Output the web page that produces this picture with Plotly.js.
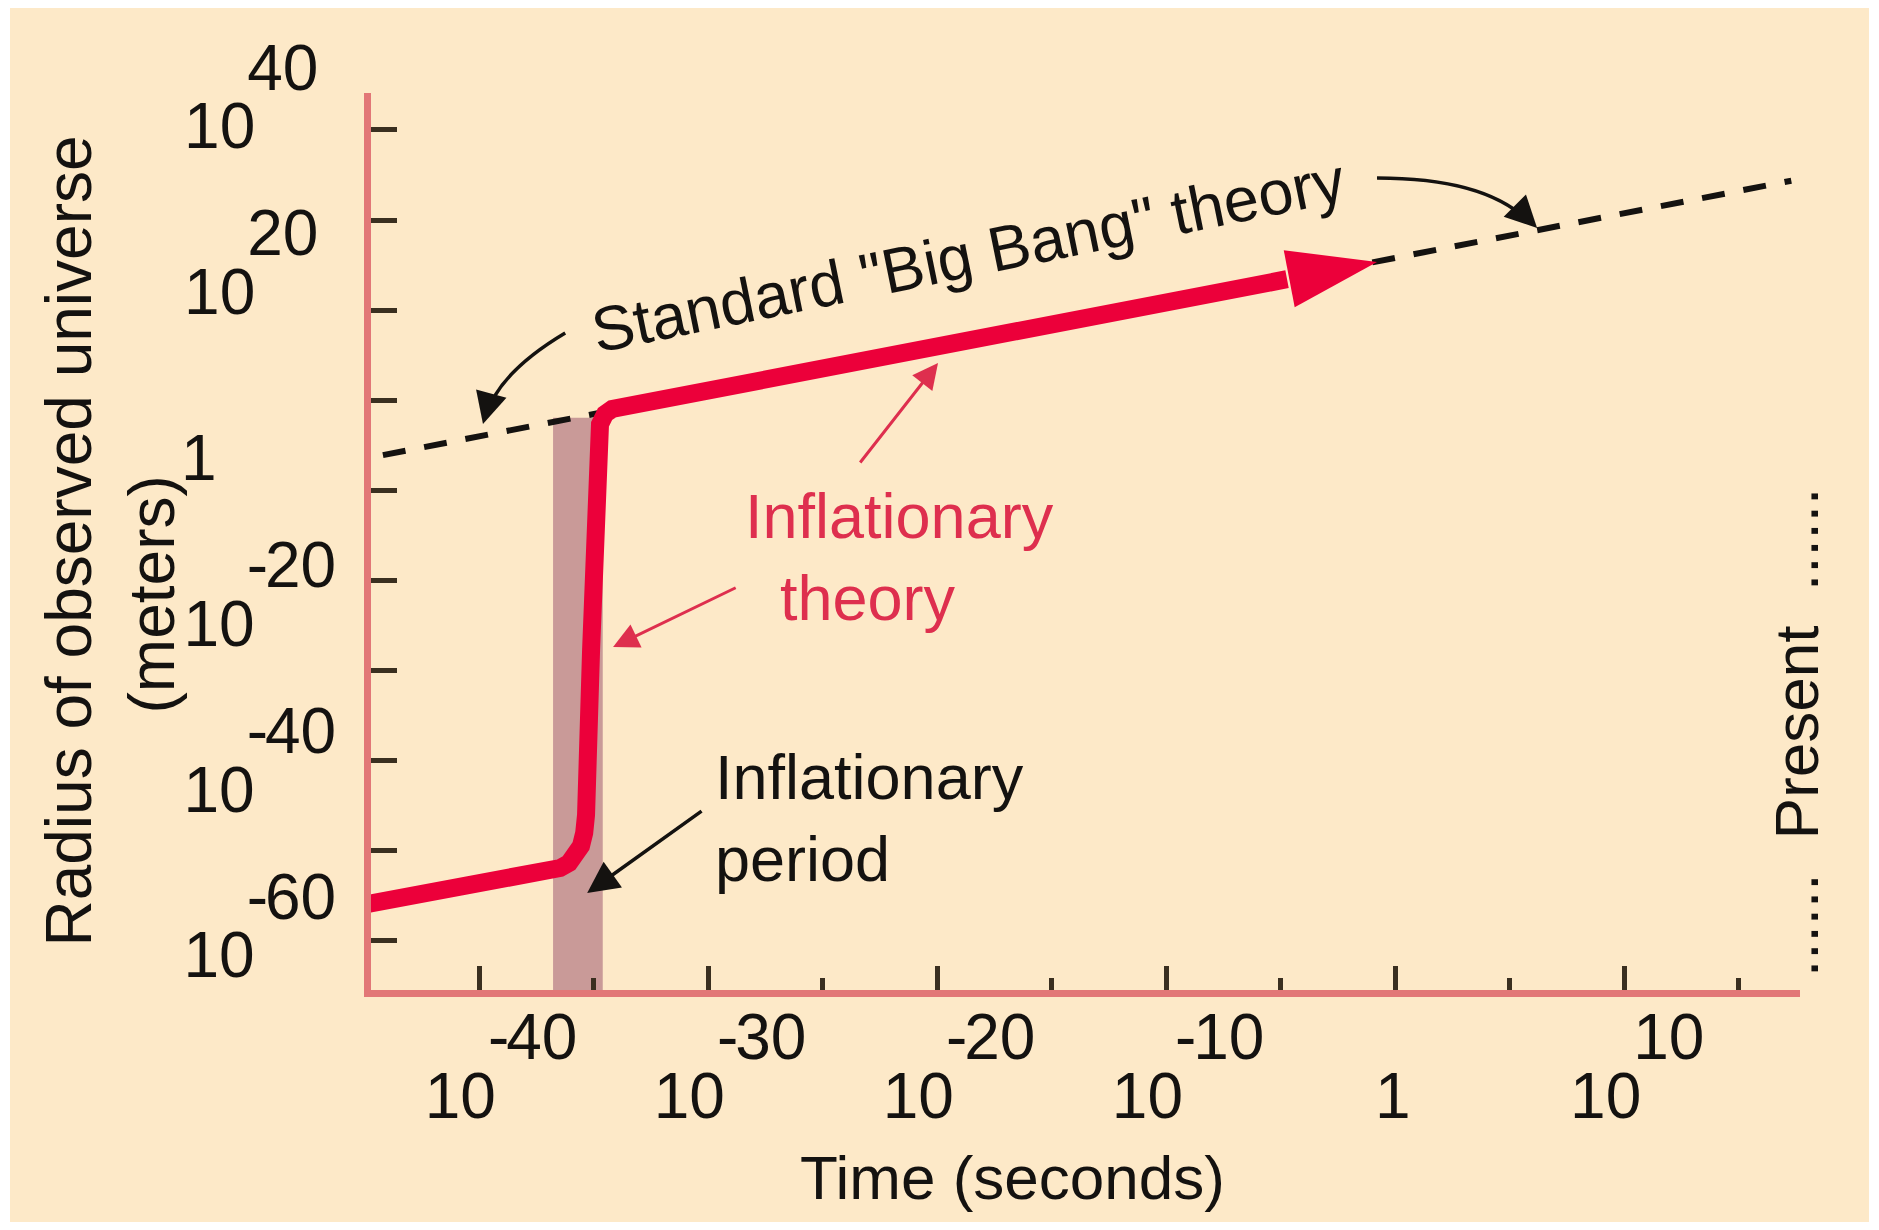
<!DOCTYPE html>
<html>
<head>
<meta charset="utf-8">
<script src="https://cdn.plot.ly/plotly-3.0.1.min.js"></script>
<style>
  html, body { margin: 0; padding: 0; background: #ffffff; }
  #chart { position: absolute; left: 10px; top: 8px; width: 1859px; height: 1214px; }
</style>
</head>
<body>
<div id="chart"></div>
<script>
// ---- Data (log10 units: x = log10(time / s), y = log10(radius / m)) ----
const inflationTimeExp   = [-44.89, -36.90, -36.46, -36.07, -35.76, -35.55, -35.41, -35.33, -35.11, -34.85, -34.79, -34.72, -34.50, -34.19, -4.72, -0.79];
const inflationRadiusExp = [-53.85, -49.99, -49.51, -48.90, -48.06, -46.85, -45.28, -43.11, -23.21, -2.70, 2.12, 4.02, 5.26, 5.86, 21.52, 23.60];

const bigBangTimeExp   = [-44.2, 17.3];
const bigBangRadiusExp = [0.3, 33.4];

const inflationPeriodTimeExp = [-36.77, -34.60];   // start, end
const inflationPeriodTopExp  = 4.8;

const xTickExps = [-40, -30, -20, -10, 0, 10];
const yTickExps = [40, 20, 0, -20, -40, -60];

// ---- Helpers (formatting only) ----
const FS = '\u2007', PS = '\u2008', TS = '\u2009';
function powLabel(e, onePad) {
  if (e === 0) return '1' + onePad;
  const expText = e < 0
    ? '<span style="letter-spacing:-3px">-</span>' + Math.abs(e)
    : String(e) + PS;
  // exponent drawn full size and raised a full line, as in the original artwork
  return '1<span style="letter-spacing:-8px">0</span><sup><sup><sup><span style="font-size:291.5%">' +
         expText + '</span></sup></sup></sup>';
}

const FONT = 'Liberation Sans, Arial, Helvetica, sans-serif';
const INK = '#141210';
const RED = '#EC003A';
const RED_TEXT = '#DE2F4E';
const AXIS_RED = '#E27777';
const TICK = '#3a2f20';

const xRange = [-44.72, 17.68];
const yRange = [-64.22, 43.98];

const nInf = inflationTimeExp.length;

const traces = [
  {
    x: bigBangTimeExp, y: bigBangRadiusExp,
    type: 'scatter', mode: 'lines',
    line: { color: INK, width: 6, dash: '23px,19px' },
    hoverinfo: 'skip', showlegend: false
  },
  // inflationary theory curve (up to the arrow base)
  {
    x: inflationTimeExp.slice(0, nInf - 1), y: inflationRadiusExp.slice(0, nInf - 1),
    type: 'scatter', mode: 'lines',
    line: { color: RED, width: 18 },
    hoverinfo: 'skip', showlegend: false
  },
  // arrow head at the end of the inflationary curve
  {
    x: inflationTimeExp.slice(nInf - 2), y: inflationRadiusExp.slice(nInf - 2),
    type: 'scatter', mode: 'markers',
    marker: {
      color: RED, opacity: 1,
      symbol: ['circle', 'arrow'],
      size: [0, 94],
      angleref: 'previous',
      line: { width: 0 }
    },
    hoverinfo: 'skip', showlegend: false
  }
];

const layout = {
  width: 1859, height: 1214,
  margin: { l: 361, r: 69, t: 85, b: 232 },
  paper_bgcolor: '#FDE9C8',
  plot_bgcolor: '#FDE9C8',
  font: { family: FONT, color: INK, size: 62 },
  showlegend: false,
  hovermode: false,
  xaxis: {
    range: xRange, autorange: false,
    showgrid: false, zeroline: false,
    showline: true, linecolor: AXIS_RED, linewidth: 7,
    tickmode: 'array', tickvals: xTickExps, ticktext: xTickExps.map(e => powLabel(e, FS + TS)),
    ticks: 'inside', ticklen: 24, tickwidth: 5, tickcolor: TICK,
    minor: { tickmode: 'linear', tick0: 0, dtick: 5, ticks: 'inside', ticklen: 12, tickwidth: 5, tickcolor: TICK, showgrid: false },
    tickfont: { family: FONT, size: 64, color: INK },
    ticklabelstandoff: 44,
    ticklabelshift: 22,
    automargin: false
  },
  yaxis: {
    range: yRange, autorange: false,
    showgrid: false, zeroline: false,
    showline: true, linecolor: AXIS_RED, linewidth: 7,
    tickmode: 'array', tickvals: yTickExps, ticktext: yTickExps.map(e => powLabel(e, FS + FS + FS + TS)),
    ticks: 'inside', ticklen: 0, tickwidth: 1, tickcolor: TICK,
    minor: { tickmode: 'linear', tick0: -58.3, dtick: 10.87, ticks: 'inside', ticklen: 26, tickwidth: 5, tickcolor: TICK, showgrid: false },
    tickfont: { family: FONT, size: 64, color: INK },
    ticklabelstandoff: 15,
    automargin: false
  },
  shapes: [
    { type: 'rect', xref: 'x', yref: 'y', layer: 'below',
      x0: inflationPeriodTimeExp[0], x1: inflationPeriodTimeExp[1],
      y0: yRange[0], y1: inflationPeriodTopExp,
      fillcolor: '#C99A98', line: { width: 0 } },
    // curved callout: Standard "Big Bang" theory -> early dashed line
    { type: 'path', xref: 'x', yref: 'y', layer: 'above',
      path: 'M -36.24,15.03 Q -39.17,10.2 -39.70,5.0',
      line: { color: INK, width: 3.5 } },
    // curved callout: Standard "Big Bang" theory -> late dashed line
    { type: 'path', xref: 'x', yref: 'y', layer: 'above',
      path: 'M -0.79,33.73 Q 4.02,33.73 5.9,28.3',
      line: { color: INK, width: 3.5 } }
  ],
  annotations: [
    // y-axis title
    { xref: 'paper', yref: 'paper', x: -0.1826, y: 0.5, xanchor: 'center', yanchor: 'middle',
      text: 'Radius of observed universe<br>(meters)' + PS.repeat(6), textangle: -90, showarrow: false,
      font: { family: FONT, size: 64, color: INK } },
    // x-axis title
    { xref: 'paper', yref: 'paper', x: 0.449, y: -0.2085, xanchor: 'center', yanchor: 'middle',
      text: 'Time (seconds)',
      showarrow: false, font: { family: FONT, size: 62, color: INK } },
    { xref: 'x', yref: 'y', x: -18.65, y: 24.44, text: 'Standard "Big Bang" theory',
      textangle: -11.5, showarrow: false, font: { family: FONT, size: 63, color: INK } },
    { xref: 'x', yref: 'y', x: -28.47, y: -11.99, xanchor: 'left', yanchor: 'middle',
      text: 'Inflationary<br>' + PS + PS + 'theory',
      showarrow: false, align: 'left', font: { family: FONT, size: 63, color: RED_TEXT } },
    { xref: 'x', yref: 'y', x: -29.78, y: -43.47, xanchor: 'left', yanchor: 'middle', text: 'Inflationary<br>period',
      showarrow: false, align: 'left', font: { family: FONT, size: 63, color: INK } },
    { xref: 'paper', yref: 'y', x: 0.998, y: -33.2, xanchor: 'center', yanchor: 'middle',
      text: '......' + PS + ' Present ' + PS + '......',
      textangle: -90, showarrow: false, font: { family: FONT, size: 62, color: INK } },
    // arrows
    { xref: 'x', yref: 'y', axref: 'x', ayref: 'y', x: -19.96, y: 11.41, ax: -23.41, ay: -0.77,
      text: '', showarrow: true, arrowhead: 2, arrowsize: 1.7, arrowwidth: 3, arrowcolor: RED_TEXT },
    { xref: 'x', yref: 'y', axref: 'x', ayref: 'y', x: -34.15, y: -22.85, ax: -28.73, ay: -15.61,
      text: '', showarrow: true, arrowhead: 2, arrowsize: 1.7, arrowwidth: 3, arrowcolor: RED_TEXT },
    { xref: 'x', yref: 'y', axref: 'x', ayref: 'y', x: -35.28, y: -52.52, ax: -30.22, ay: -42.51,
      text: '', showarrow: true, arrowhead: 2, arrowsize: 1.8, arrowwidth: 3.5, arrowcolor: INK },
    { xref: 'x', yref: 'y', x: -39.83, y: 4.05, ax: 6, ay: -22,
      text: '', showarrow: true, arrowhead: 2, arrowsize: 1.8, arrowwidth: 3.5, arrowcolor: INK },
    { xref: 'x', yref: 'y', x: 6.20, y: 27.70, ax: -14, ay: -14,
      text: '', showarrow: true, arrowhead: 2, arrowsize: 1.8, arrowwidth: 3.5, arrowcolor: INK }
  ]
};

Plotly.newPlot('chart', traces, layout, { staticPlot: true, displayModeBar: false });
</script>
</body>
</html>
